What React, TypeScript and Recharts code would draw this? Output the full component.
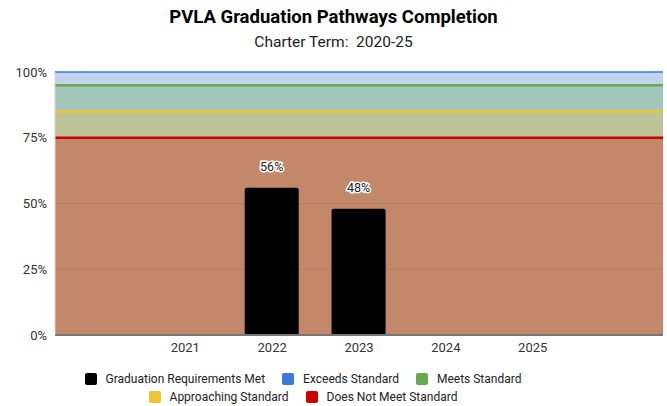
import {
  ComposedChart,
  Bar,
  XAxis,
  YAxis,
  CartesianGrid,
  ReferenceArea,
  ReferenceLine,
  LabelList,
  Legend,
} from "recharts";

const years = ["2020", "2021", "2022", "2023", "2024", "2025", "2026"];
const yearLabels = ["", "2021", "2022", "2023", "2024", "2025", ""];
const completion = [null, null, 56, 48, null, null, null];
const yTicks = [0, 25, 50, 75, 100];

// upper bands sit above the bars, drawn as reference areas
const upperBands = [
  { from: 75, to: 85, fill: "#bcc497" },
  { from: 85, to: 95, fill: "#a3c7bb" },
  { from: 95, to: 100, fill: "#c2d3ef" },
];
// the "does not meet" band lives in the grid so its lines stay under the bars
const gridValues = [75, 50, 25];
const gridFills = ["#ffffff", "#c3886a", "#c3886a", "#c3886a"];

const thresholds = [
  { value: 100, color: "#3c78d8", width: 1.5 },
  { value: 95, color: "#6aa84f", width: 2.5 },
  { value: 85, color: "#f1c232", width: 2.5 },
  { value: 75, color: "#cc0000", width: 2.5 },
];

const legendRows = [
  [
    { label: "Graduation Requirements Met", color: "#000000" },
    { label: "Exceeds Standard", color: "#3c78d8" },
    { label: "Meets Standard", color: "#6aa84f" },
  ],
  [
    { label: "Approaching Standard", color: "#f1c232" },
    { label: "Does Not Meet Standard", color: "#cc0000" },
  ],
];

const FONT = "Roboto, 'Noto Sans', sans-serif";

function LegendBox() {
  return (
    <div style={{ width: 606, height: 36, fontFamily: FONT, fontSize: 12, color: "#222" }}>
      {legendRows.map((row, i) => (
        <div
          key={i}
          style={{ display: "flex", justifyContent: "center", height: 18, alignItems: "center" }}
        >
          {row.map((item) => (
            <div key={item.label} style={{ display: "flex", alignItems: "center", margin: "0 8.5px" }}>
              <span
                style={{
                  display: "inline-block",
                  width: 12,
                  height: 12,
                  borderRadius: 2,
                  background: item.color,
                  marginRight: 9,
                }}
              />
              <span>{item.label}</span>
            </div>
          ))}
        </div>
      ))}
    </div>
  );
}

export default function App() {
  const data = years.map((y, i) => ({ year: y, value: completion[i] }));

  return (
    <div
      style={{
        position: "absolute",
        left: 0,
        top: 0,
        width: 667,
        height: 406,
        background: "#fff",
        fontFamily: FONT,
      }}
    >
      <ComposedChart
        width={667}
        height={406}
        data={data}
        margin={{ top: 72, right: 4, left: 0, bottom: 10 }}
      >
        <CartesianGrid
          vertical={false}
          horizontalValues={gridValues}
          horizontalFill={gridFills}
          fillOpacity={1}
          stroke="#b57d60"
          strokeWidth={1}
        />
        {upperBands.map((b) => (
          <ReferenceArea
            key={b.from}
            y1={b.from}
            y2={b.to}
            fill={b.fill}
            fillOpacity={1}
            stroke="none"
          />
        ))}
        {thresholds.map((t) => (
          <ReferenceLine key={t.value} y={t.value} stroke={t.color} strokeWidth={t.width} />
        ))}
        <XAxis
          dataKey="year"
          height={25}
          tickLine={false}
          axisLine={{ stroke: "#777", strokeWidth: 2 }}
          tick={{ fontSize: 13, fill: "#333", fontFamily: FONT }}
          tickFormatter={(_v: string, i: number) => yearLabels[i]}
          interval={0}
        />
        <YAxis
          width={55}
          domain={[0, 100]}
          ticks={yTicks}
          tickLine={false}
          axisLine={{ stroke: "#d6d6d6" }}
          tick={{ fontSize: 13, fill: "#333", fontFamily: FONT }}
          tickFormatter={(v: number) => `${v}%`}
        />
        <Bar dataKey="value" fill="#000" barSize={54} radius={[2, 2, 0, 0]} isAnimationActive={false}>
          <LabelList
            dataKey="value"
            position="top"
            offset={17}
            formatter={(v: unknown) => (v == null ? "" : `${v}%`)}
            style={{
              fontSize: 12.5,
              fill: "#222",
              stroke: "#fff",
              strokeWidth: 3,
              paintOrder: "stroke",
              fontFamily: FONT,
            }}
          />
        </Bar>
        <Legend
          content={() => <LegendBox />}
          wrapperStyle={{ top: 370, left: 0, width: 606 }}
        />
      </ComposedChart>
      <div
        style={{
          position: "absolute",
          top: 6,
          width: 667,
          textAlign: "center",
          fontWeight: 700,
          fontSize: 18.5,
          color: "#000",
        }}
      >
        PVLA Graduation Pathways Completion
      </div>
      <div
        style={{
          position: "absolute",
          top: 33,
          width: 667,
          textAlign: "center",
          fontSize: 15.5,
          color: "#222",
          whiteSpace: "pre",
        }}
      >
        Charter Term:  2020-25
      </div>
    </div>
  );
}
